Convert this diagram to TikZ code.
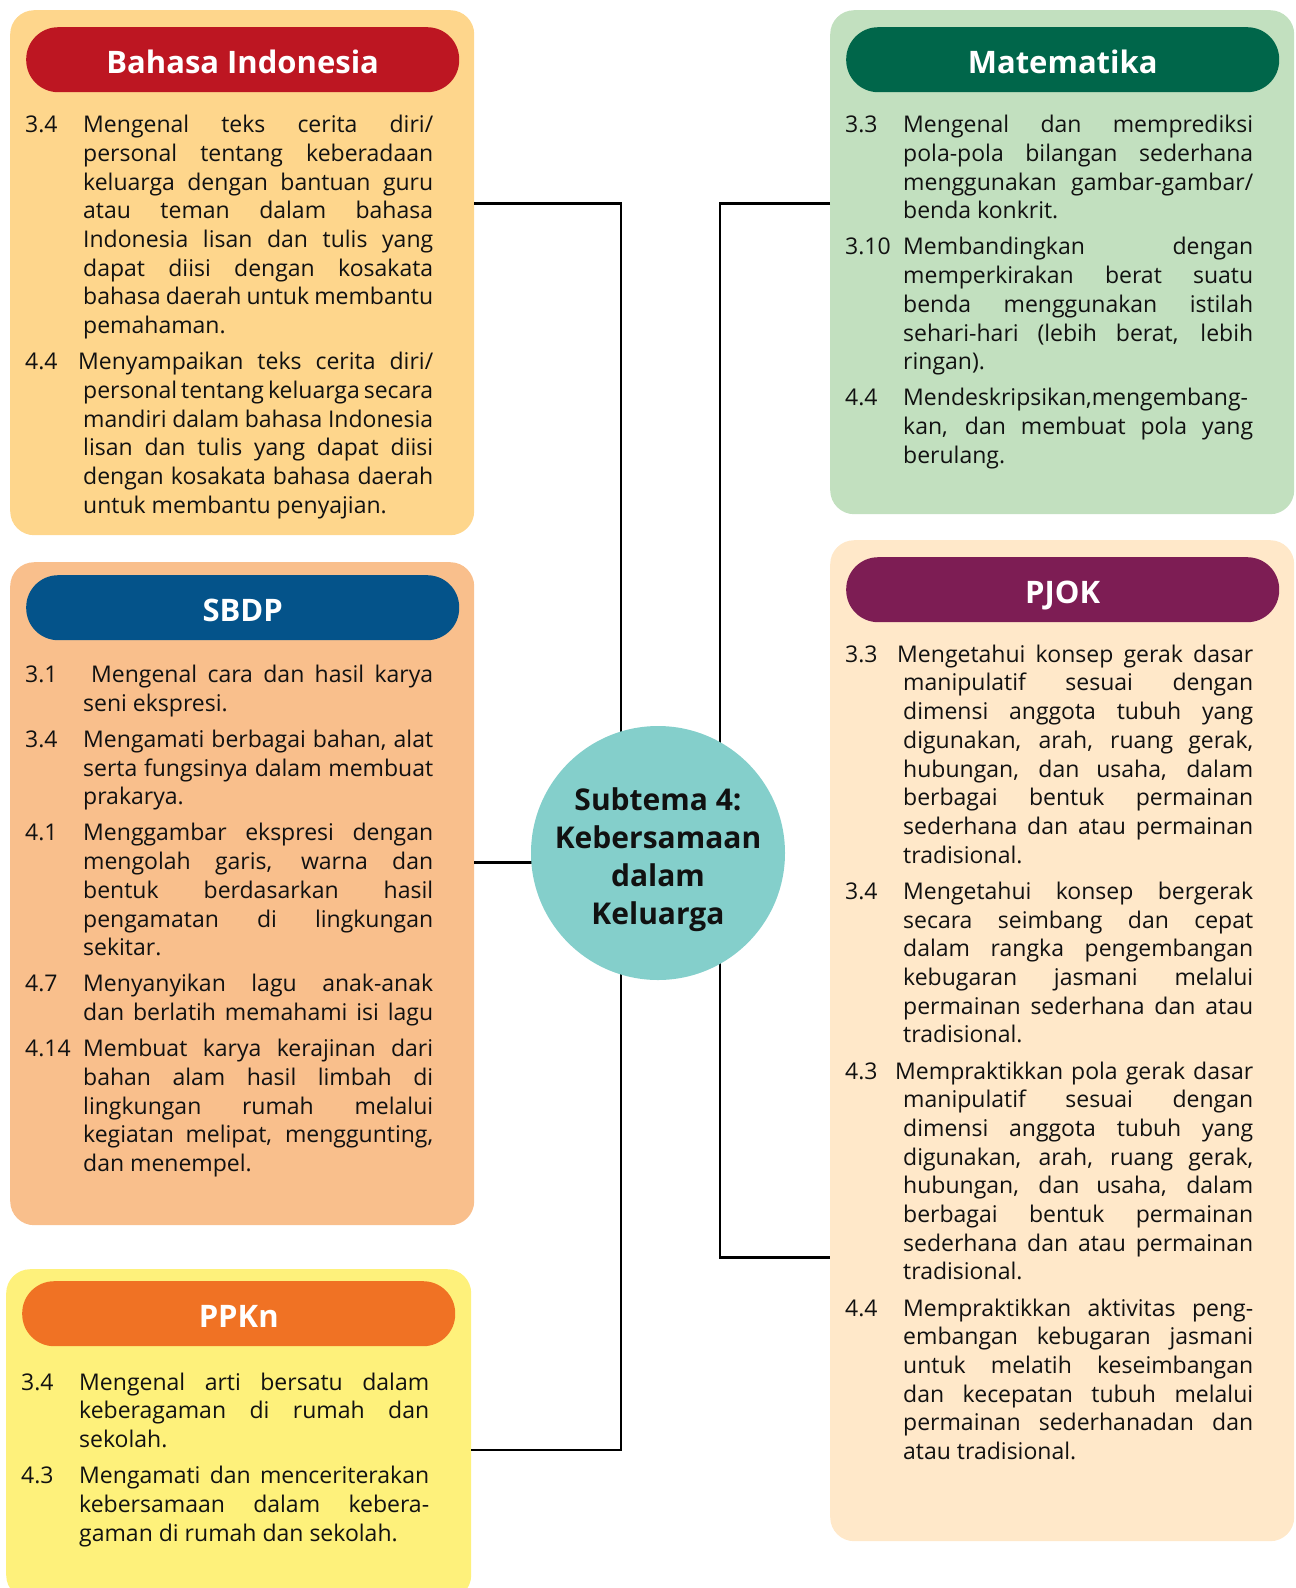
\documentclass[tikz,border=0pt]{standalone}
\usepackage{fontspec}
\setmainfont{Open Sans}
\definecolor{biBg}{HTML}{FED68C}
\definecolor{biHd}{HTML}{BD1622}
\definecolor{matBg}{HTML}{C2E0BF}
\definecolor{matHd}{HTML}{00664A}
\definecolor{sbBg}{HTML}{F9BF8C}
\definecolor{sbHd}{HTML}{04538A}
\definecolor{pjBg}{HTML}{FFE8C9}
\definecolor{pjHd}{HTML}{7D1D54}
\definecolor{ppBg}{HTML}{FEF17B}
\definecolor{ppHd}{HTML}{F07224}
\definecolor{circBg}{HTML}{84CFCB}
\definecolor{ink}{HTML}{111111}
% first line of an item (number + justified line)
\newcommand{\fl}[2]{\noindent\makebox[58pt][l]{#1}\makebox[350pt][s]{#2}\par}
% justified continuation line
\newcommand{\jl}[1]{\noindent\hspace*{58pt}\makebox[350pt][s]{#1}\par}
% last (ragged) line of an item
\newcommand{\el}[1]{\noindent\hspace*{58pt}#1\par}
\newcommand{\gap}{\vskip7.5pt}
\newcommand{\bodytext}[1]{\parbox[t]{408pt}{\fontsize{23}{28.7}\selectfont\parskip=0pt\parindent=0pt\hbadness=10000\hfuzz=30pt#1}}
\begin{document}
\begin{tikzpicture}[x=1pt,y=-1pt,
  panel/.style={rectangle,anchor=north west,inner sep=0pt,rounded corners=24pt},
  pill/.style={rectangle,anchor=north west,inner sep=0pt,rounded corners=32pt,minimum width=433pt,minimum height=65pt},
  title/.style={anchor=base,inner sep=0pt,text=white,font={\fontsize{31}{31}\selectfont\bfseries}},
  txt/.style={anchor=base west,inner sep=0pt,text=ink},
  conn/.style={draw=black,line width=2.6pt}]
\useasboundingbox (0,0) rectangle (1296,1588);
\clip (0,0) rectangle (1296,1588);

% panels
\node[panel,fill=biBg,minimum width=464pt,minimum height=525pt] (bi) at (10,10) {};
\node[panel,fill=matBg,minimum width=464pt,minimum height=504pt] (mat) at (830,10) {};
\node[panel,fill=sbBg,minimum width=464pt,minimum height=663pt] (sbdp) at (10,562) {};
\node[panel,fill=pjBg,minimum width=464pt,minimum height=1001pt] (pjok) at (830,540) {};
\node[panel,fill=ppBg,minimum width=465pt,minimum height=330pt] (ppkn) at (6,1269) {};

% connectors (drawn before the centre circle, which covers them)
\coordinate (cc) at (658,853);
\coordinate (lt) at (621,203.5);
\coordinate (lb) at (621,1450);
\coordinate (rt) at (720,203.5);
\coordinate (rb) at (720,1257.5);
\coordinate (sl) at (621,862.5);
\draw[conn] (bi.east |- lt) -- (lt) -- (lb) -- (ppkn.east |- lb);
\draw[conn] (sbdp.east |- sl) -- (cc |- sl);
\draw[conn] (mat.west |- rt) -- (rt) -- (rb) -- (pjok.west |- rb);

% headers
\node[pill,fill=biHd] (biH) at (26,27) {};
\node[title,yshift=-14pt] (biT) at (biH.center) {Bahasa Indonesia};
\node[pill,fill=matHd] (matH) at (846,27) {};
\node[title,yshift=-14pt] (matT) at (matH.center) {Matematika};
\node[pill,fill=sbHd] (sbH) at (26,575) {};
\node[title,yshift=-14pt] (sbT) at (sbH.center) {SBDP};
\node[pill,fill=pjHd] (pjH) at (846,557) {};
\node[title,yshift=-14pt] (pjT) at (pjH.center) {PJOK};
\node[pill,fill=ppHd] (ppH) at (22,1281) {};
\node[title,yshift=-14pt] (ppT) at (ppH.center) {PPKn};

% texts
\node[txt] (biX) at (25,132.6) {\bodytext{%
\fl{3.4}{Mengenal teks cerita diri/}
\jl{personal tentang keberadaan}
\jl{keluarga dengan bantuan guru}
\jl{atau teman dalam bahasa}
\jl{Indonesia lisan dan tulis yang}
\jl{dapat diisi dengan kosakata}
\jl{bahasa daerah untuk membantu}
\el{pemahaman.}
\gap
\fl{4.4}{\hspace{-5pt}Menyampaikan teks cerita diri/}
\jl{personal tentang keluarga secara}
\jl{mandiri dalam bahasa Indonesia}
\jl{lisan dan tulis yang dapat diisi}
\jl{dengan kosakata bahasa daerah}
\el{untuk membantu penyajian.}}};

\node[txt] (matX) at (845,132.6) {\bodytext{%
\fl{3.3}{Mengenal dan memprediksi}
\jl{pola-pola bilangan sederhana}
\jl{menggunakan gambar-gambar/}
\el{benda konkrit.}
\gap
\fl{3.10}{Membandingkan dengan}
\jl{memperkirakan berat suatu}
\jl{benda menggunakan istilah}
\jl{sehari-hari (lebih berat, lebih}
\el{ringan).}
\gap
\fl{4.4}{Mendeskripsikan,mengembang-}
\jl{kan, dan membuat pola yang}
\el{berulang.}}};

\node[txt] (sbX) at (25,682.4) {\bodytext{%
\fl{3.1}{\hspace{8pt}Mengenal cara dan hasil karya}
\el{seni ekspresi.}
\gap
\fl{3.4}{Mengamati berbagai bahan, alat}
\jl{serta fungsinya dalam membuat}
\el{prakarya.}
\gap
\fl{4.1}{Menggambar ekspresi dengan}
\jl{mengolah garis, warna dan}
\jl{bentuk berdasarkan hasil}
\jl{pengamatan di lingkungan}
\el{sekitar.}
\gap
\fl{4.7}{Menyanyikan lagu anak-anak}
\jl{dan berlatih memahami isi lagu}
\gap
\fl{4.14}{Membuat karya kerajinan dari}
\jl{bahan alam hasil limbah di}
\jl{lingkungan rumah melalui}
\jl{kegiatan melipat, menggunting,}
\el{dan menempel.}}};

\node[txt] (pjX) at (845,662.2) {\bodytext{%
\fl{3.3}{\hspace{-6pt}Mengetahui konsep gerak dasar}
\jl{manipulatif sesuai dengan}
\jl{dimensi anggota tubuh yang}
\jl{digunakan, arah, ruang gerak,}
\jl{hubungan, dan usaha, dalam}
\jl{berbagai bentuk permainan}
\jl{sederhana dan atau permainan}
\el{tradisional.}
\gap
\fl{3.4}{Mengetahui konsep bergerak}
\jl{secara seimbang dan cepat}
\jl{dalam rangka pengembangan}
\jl{kebugaran jasmani melalui}
\jl{permainan sederhana dan atau}
\el{tradisional.}
\gap
\fl{4.3}{\hspace{-8pt}Mempraktikkan pola gerak dasar}
\jl{manipulatif sesuai dengan}
\jl{dimensi anggota tubuh yang}
\jl{digunakan, arah, ruang gerak,}
\jl{hubungan, dan usaha, dalam}
\jl{berbagai bentuk permainan}
\jl{sederhana dan atau permainan}
\el{tradisional.}
\gap
\fl{4.4}{Mempraktikkan aktivitas peng-}
\jl{embangan kebugaran jasmani}
\jl{untuk melatih keseimbangan}
\jl{dan kecepatan tubuh melalui}
\jl{permainan sederhanadan dan}
\el{atau tradisional.}}};

\node[txt] (ppX) at (21,1390) {\bodytext{%
\fl{3.4}{Mengenal arti bersatu dalam}
\jl{keberagaman di rumah dan}
\el{sekolah.}
\gap
\fl{4.3}{Mengamati dan menceriterakan}
\jl{kebersamaan dalam kebera-}
\el{gaman di rumah dan sekolah.}}};

% centre
\node[circle,fill=circBg,minimum size=254pt,inner sep=0pt] (circ) at (cc) {};
\node[align=center,text=ink,inner sep=0pt,yshift=-7pt,
  font={\fontsize{30}{38}\selectfont\bfseries}] (circT) at (circ.center)
  {Subtema 4:\\Kebersamaan\\dalam\\Keluarga};
\end{tikzpicture}
\end{document}
